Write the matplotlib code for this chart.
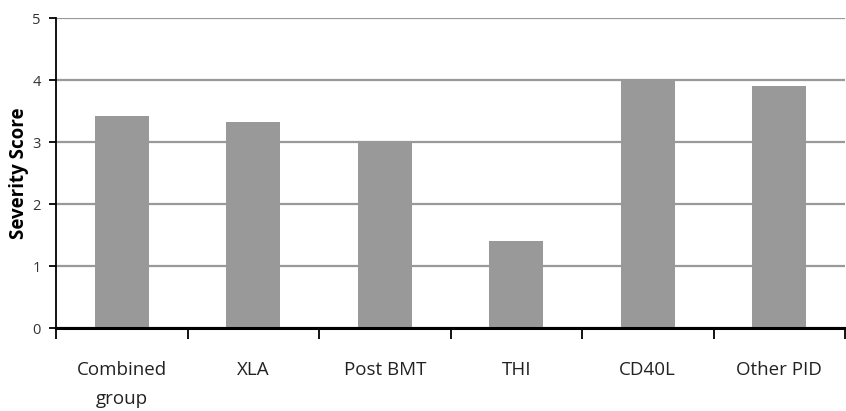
import matplotlib
matplotlib.use("Agg")
import matplotlib.pyplot as plt
import numpy as np

categories = ["Combined\ngroup", "XLA", "Post BMT", "THI", "CD40L", "Other PID"]
values = [3.42, 3.32, 3.0, 1.40, 4.0, 3.9]
yticks = [0, 1, 2, 3, 4, 5]

plt.rcParams['font.family'] = ['Open Sans', 'DejaVu Sans']

W, H = 846, 411
fig = plt.figure(figsize=(W/100, H/100), dpi=100)
ax = fig.add_axes([56/W, 1-328/H, (845-56)/W, (328-18)/H])

x = np.arange(len(categories))
ax.bar(x, values, width=0.41, color='#999999', zorder=2)
ax.set_xlim(-0.5, len(categories)-0.5)
ax.set_ylim(0, 5)
ax.set_yticks(yticks)
ax.yaxis.grid(True, color='#999999', linewidth=1.6, zorder=1)
ax.set_axisbelow(True)

ax.set_xticks(np.arange(len(categories)+1) - 0.5)
ax.set_xticklabels([])
ax.set_xticks(x, minor=True)
ax.set_xticklabels(categories, minor=True, fontsize=13.5, color='#222222', linespacing=1.75)
ax.tick_params(axis='x', which='major', direction='out', length=8, width=1.3, color='black')
ax.tick_params(axis='x', which='minor', length=0, pad=24)
ax.tick_params(axis='y', direction='out', length=5, width=1.3, labelsize=10.5, colors='black', labelcolor='#333333', pad=6)

for s in ['top', 'right']:
    ax.spines[s].set_visible(False)
ax.spines['left'].set_linewidth(1.3)
ax.spines['bottom'].set_linewidth(2.2)
ax.spines['bottom'].set_zorder(3)

ax.set_ylabel('Severity Score', fontsize=13.5, fontweight='bold')
ax.yaxis.set_label_coords(-(56-29)/(845-56), (328-173)/(328-18))

fig.savefig('out.png', dpi=100)
